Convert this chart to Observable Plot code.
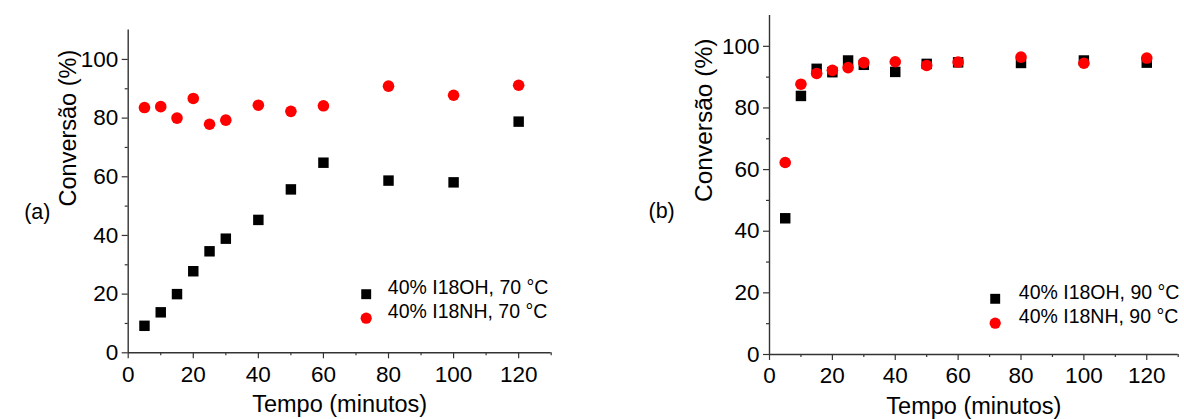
<!DOCTYPE html>
<html>
<head>
<meta charset="utf-8">
<script src="https://cdn.jsdelivr.net/npm/d3@7"></script>
<script src="https://cdn.jsdelivr.net/npm/@observablehq/plot@0.6"></script>
<style>
  html, body { margin: 0; padding: 0; background: #fff; }
  #wrap { position: relative; width: 1184px; height: 419px; overflow: hidden; background: #fff; }
  #wrap > div { position: absolute; top: 0; }
  #pa { left: 0; }
  #pb { left: 592px; }
</style>
</head>
<body>
<div id="wrap"><div id="pa"></div><div id="pb"></div></div>
<script>
// ---- data ----
const xLabel = "Tempo (minutos)";
const yLabel = "Conversão (%)";
const times = [5, 10, 15, 20, 25, 30, 40, 50, 60, 80, 100, 120];

const seriesA = ["40% I18OH, 70 °C", "40% I18NH, 70 °C"];
const oh70 = [9.2, 13.8, 20.0, 27.8, 34.6, 38.9, 45.3, 55.7, 64.8, 58.7, 58.1, 78.8];
const nh70 = [83.6, 83.9, 80.0, 86.7, 77.9, 79.3, 84.4, 82.3, 84.2, 90.9, 87.8, 91.2];

const seriesB = ["40% I18OH, 90 °C", "40% I18NH, 90 °C"];
const oh90 = [44.2, 83.9, 92.7, 91.6, 95.4, 94.0, 91.7, 94.3, 94.8, 94.6, 95.4, 94.7];
const nh90 = [62.3, 87.7, 91.2, 92.2, 93.1, 94.7, 95.0, 93.8, 94.9, 96.5, 94.5, 96.2];

const xMajor = [0, 20, 40, 60, 80, 100, 120];
const xMinor = [10, 30, 50, 70, 90, 110, 130];
const yMajor = [0, 20, 40, 60, 80, 100];
const yMinor = [10, 30, 50, 70, 90];
const panelTags = ["(a)", "(b)"];

const FONT = "'Liberation Sans', Arial, Helvetica, sans-serif";
const AX = "#333";

function panel(cfg) {
  const ohRows = times.map((t, i) => ({t, v: cfg.oh[i]}));
  const nhRows = times.map((t, i) => ({t, v: cfg.nh[i]}));
  return Plot.plot({
    width: 592,
    height: 419,
    marginLeft: cfg.ml, marginRight: cfg.mr, marginTop: cfg.mt, marginBottom: cfg.mb,
    x: {domain: [0, 130]},
    y: {domain: [0, 110]},
    style: {fontFamily: FONT, fontSize: "22px", color: "#000", background: "#fff", overflow: "visible"},
    marks: [
      // minor ticks
      Plot.axisX({ticks: xMinor, tickSize: 3, tickFormat: () => "", stroke: AX, strokeWidth: 1.2, label: null}),
      Plot.axisY({ticks: yMinor, tickSize: 3, tickFormat: () => "", stroke: AX, strokeWidth: 1.2, label: null}),
      // major ticks + labels
      Plot.axisX({ticks: xMajor, tickSize: 6, tickPadding: 7, stroke: AX, strokeWidth: 1.2, fill: "#000", fontSize: 22.5, label: null}),
      Plot.axisY({ticks: yMajor, tickSize: 6, tickPadding: 4, stroke: AX, strokeWidth: 1.2, fill: "#000", fontSize: 22.5, label: null}),
      // axis lines
      Plot.ruleY([0], {stroke: AX, strokeWidth: 1.4}),
      Plot.ruleX([0], {stroke: AX, strokeWidth: 1.4}),
      // data
      Plot.dot(ohRows, {x: "t", y: "v", symbol: "square", fill: "#000", r: 5.9}),
      Plot.dot(nhRows, {x: "t", y: "v", symbol: "circle", fill: "#ff0000", r: 5.8}),
      // axis titles
      Plot.text([xLabel], {frameAnchor: "bottom", dy: 59, fontSize: 23.5, fill: "#000"}),
      Plot.text([yLabel], {frameAnchor: "left", rotate: -90, dx: cfg.ytdx, dy: cfg.ytdy, fontSize: cfg.ytfs, fill: "#000"}),
      // panel tag
      Plot.text([cfg.tag], {frameAnchor: "left", dx: cfg.tagdx, dy: cfg.tagdy, fontSize: 21.5, fill: "#000"}),
      // legend
      Plot.dot([cfg.names[0]], {frameAnchor: "bottom-left", dx: cfg.ldx, dy: cfg.ldy1, symbol: "square", fill: "#000", r: 5.6}),
      Plot.dot([cfg.names[1]], {frameAnchor: "bottom-left", dx: cfg.ldx, dy: cfg.ldy2, symbol: "circle", fill: "#ff0000", r: 5.6}),
      Plot.text([cfg.names[0]], {frameAnchor: "bottom-left", dx: cfg.ltdx, dy: cfg.ldy1, text: d => d, textAnchor: "start", fontSize: 19.5, fill: "#000"}),
      Plot.text([cfg.names[1]], {frameAnchor: "bottom-left", dx: cfg.ltdx, dy: cfg.ldy2, text: d => d, textAnchor: "start", fontSize: 19.5, fill: "#000"})
    ]
  });
}

document.getElementById("pa").appendChild(panel({
  oh: oh70, nh: nh70, names: seriesA, tag: panelTags[0],
  ml: 127.7, mr: 41.3, mt: 29.6, mb: 66.7,
  ytdx: -60, ytdy: 15, ytfs: 23.5,
  tagdx: -104, tagdy: 21,
  ldx: 238, ldy1: -58.6, ldy2: -34.6, ltdx: 259.6
}));

document.getElementById("pb").appendChild(panel({
  oh: oh90, nh: nh90, names: seriesB, tag: panelTags[1],
  ml: 177, mr: 6.3, mt: 15, mb: 65,
  ytdx: -65, ytdy: 17, ytfs: 24.5,
  tagdx: -121, tagdy: 26.5,
  ldx: 225.7, ldy1: -55.7, ldy2: -31.3, ltdx: 249.3
}));
</script>
</body>
</html>
